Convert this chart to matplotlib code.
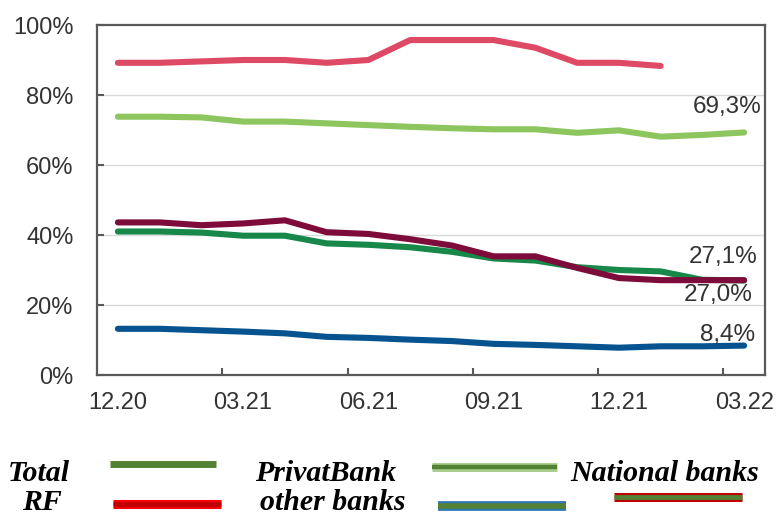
import numpy as np
import matplotlib
matplotlib.use('Agg')
import matplotlib.pyplot as plt
from matplotlib.lines import Line2D

plt.rcParams['font.family'] = ['Liberation Sans', 'DejaVu Sans']

# Месяцы от 12.20 до 03.22
months = ['12.20', '01.21', '02.21', '03.21', '04.21', '05.21', '06.21', '07.21',
          '08.21', '09.21', '10.21', '11.21', '12.21', '01.22', '02.22', '03.22']
tick_labels = ['12.20', '03.21', '06.21', '09.21', '12.21', '03.22']

# Доли, %
rf = [89.2, 89.2, 89.6, 90.0, 90.0, 89.2, 90.0, 95.7, 95.7, 95.7, 93.5, 89.2, 89.2, 88.3]
privat = [73.8, 73.8, 73.6, 72.4, 72.4, 71.9, 71.4, 70.9, 70.5, 70.2, 70.2, 69.2, 69.9, 68.1, 68.6, 69.3]
total = [41.0, 41.0, 40.7, 39.8, 39.8, 37.6, 37.2, 36.5, 35.2, 33.3, 32.7, 30.8, 30.0, 29.6, 27.2, 27.0]
other = [43.6, 43.6, 42.8, 43.3, 44.2, 40.8, 40.3, 38.8, 37.0, 33.9, 33.9, 30.6, 27.7, 27.1, 27.1, 27.1]
national = [13.2, 13.2, 12.8, 12.4, 11.9, 10.9, 10.6, 10.1, 9.7, 8.9, 8.6, 8.2, 7.8, 8.2, 8.2, 8.4]

x = np.arange(len(months))

fig = plt.figure(figsize=(7.77, 5.15), dpi=100)
ax = fig.add_axes([97 / 777, 140 / 515, 668 / 777, 350 / 515])

lw = 4.4
style = dict(lw=lw, solid_capstyle='round', solid_joinstyle='round')
ax.plot(x[:len(rf)], rf, color='#DE4A66', **style)
ax.plot(x, privat, color='#8DC65E', **style)
ax.plot(x, total, color='#17884A', **style)
ax.plot(x, other, color='#7E0C3A', **style)
ax.plot(x, national, color='#06538F', **style)

def pct(v):
    return f'{v:.1f}'.replace('.', ',') + '%'

# подписи последних значений
lab = dict(fontsize=17.5, color='#333333', ha='right', va='center')
ax.text(15.42, privat[-1] + 7.4, pct(privat[-1]), **lab)
ax.text(15.32, other[-1] + 6.5, pct(other[-1]), **lab)
ax.text(15.2, total[-1] - 4.0, pct(total[-1]), **lab)
ax.text(15.27, national[-1] + 2.9, pct(national[-1]), **lab)

ax.set_xlim(-0.5, 15.5)
ax.set_ylim(0, 100)
ax.set_yticks(range(0, 101, 20))
ax.set_yticklabels([f'{v}%' for v in range(0, 101, 20)])
ax.set_xticks([months.index(m) for m in tick_labels])
ax.set_xticklabels(tick_labels)
ax.set_xticks([2.5, 5.5, 8.5, 11.5, 14.5], minor=True)
ax.tick_params(axis='x', which='major', length=0, pad=12, labelsize=17, labelcolor='#333333')
ax.tick_params(axis='x', which='minor', direction='in', length=5, width=1.5, color='#595959')
ax.tick_params(axis='y', direction='in', length=5, width=1.5, color='#595959',
               pad=17, labelsize=17, labelcolor='#333333')
for v in range(20, 100, 20):
    ax.axhline(v, color='#D9D9D9', lw=1, zorder=0)
for s in ax.spines.values():
    s.set_color('#595959')
    s.set_linewidth(1.6)

# Легенда
leg_font = dict(family='Liberation Serif', weight='bold', style='italic', fontsize=21.5,
                color='black', va='baseline')
fig.text(8 / 777, 1 - 481 / 515, 'Total', ha='left', **leg_font)
fig.text(255 / 777, 1 - 481 / 515, 'PrivatBank', ha='left', **leg_font)
fig.text(570 / 777, 1 - 481 / 515, 'National banks', ha='left', **leg_font)
fig.text(22 / 777, 1 - 510 / 515, 'RF', ha='left', **leg_font)
fig.text(260 / 777, 1 - 510 / 515, 'other banks', ha='left', **leg_font)

def sample(x0, x1, y, outer, width, inner=None, inner_w=0):
    xs = [x0 / 777, x1 / 777]
    ys = [1 - y / 515] * 2
    fig.add_artist(Line2D(xs, ys, color=outer, lw=width, solid_capstyle='butt'))
    if inner:
        fig.add_artist(Line2D(xs, ys, color=inner, lw=inner_w, solid_capstyle='butt'))

sample(110, 216, 463.5, '#548235', 5)
sample(432, 557, 467, '#A9D08E', 6.5, '#548235', 3.2)
sample(113, 221, 503.5, '#FF0000', 6.5, '#C00000', 3.8)
sample(438, 566, 506, '#2E75B6', 7, '#548235', 4)
sample(614, 742, 497, '#C00000', 6.5, '#548235', 3.5)

fig.savefig('out.png', dpi=100)
